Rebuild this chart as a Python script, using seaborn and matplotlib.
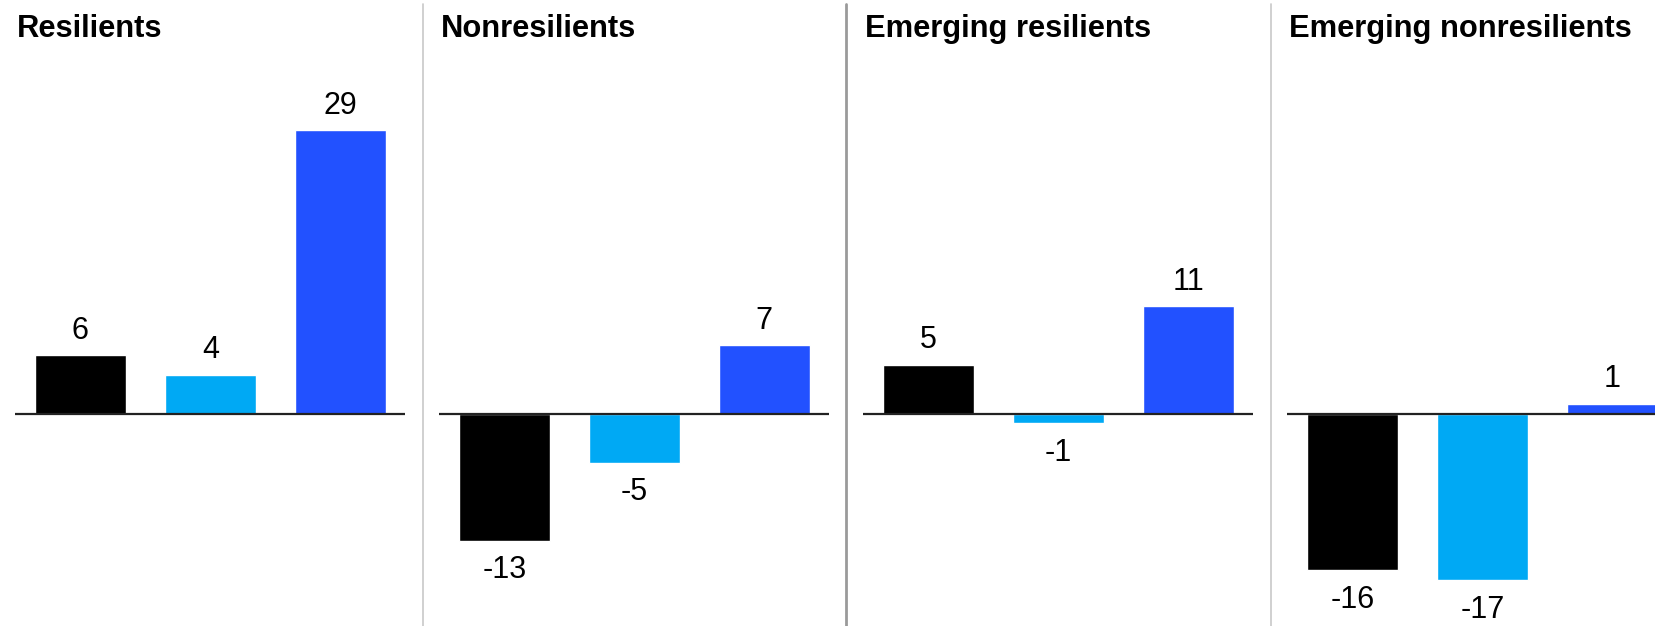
import matplotlib
matplotlib.use("Agg")
import matplotlib.pyplot as plt
from matplotlib.lines import Line2D
import seaborn as sns
import pandas as pd

sns.set_style("white")
plt.rcParams["font.family"] = ["Liberation Sans", "DejaVu Sans"]
plt.rcParams["text.color"] = "black"

# Data
groups = ["Resilients", "Nonresilients", "Emerging resilients", "Emerging nonresilients"]
measures = ["Measure 1", "Measure 2", "Measure 3"]
resilients = [6, 4, 29]
nonresilients = [-13, -5, 7]
emerging_resilients = [5, -1, 11]
emerging_nonresilients = [-16, -17, 1]
bar_colors = ["#000000", "#00A9F4", "#2251FF"]

values = [resilients, nonresilients, emerging_resilients, emerging_nonresilients]

W, H = 1655, 626
fig = plt.figure(figsize=(W / 100, H / 100), dpi=100)

# panel geometry in pixels
panel_left = 15.3
panel_step = 424
panel_w = 390
ax_top_px = 60
zero_px = 413.7
px_per_unit = 9.78
y_top = (zero_px - ax_top_px) / px_per_unit
y_bot = -(H - zero_px) / px_per_unit

palette = dict(zip(measures, bar_colors))

for i, (group, vals) in enumerate(zip(groups, values)):
    left = panel_left + i * panel_step
    ax = fig.add_axes([left / W, 0, panel_w / W, 1 - ax_top_px / H])
    df = pd.DataFrame({"measure": measures, "value": vals})
    sns.barplot(data=df, x="measure", y="value", hue="measure", palette=palette,
                width=0.7, ax=ax, legend=False, saturation=1)
    ax.set_xlim(-0.5, 2.5)
    ax.set_ylim(y_bot, y_top)
    ax.axhline(0, color="#222222", lw=1.6)
    for c in ax.containers:
        neg = c.datavalues[0] < 0
        ax.bar_label(c, fmt="{:.0f}", padding=10.5 if neg else 6.8,
                     fontsize=22, color="black")
    ax.set_xticks([])
    ax.set_yticks([])
    ax.set_xlabel("")
    ax.set_ylabel("")
    for s in ax.spines.values():
        s.set_visible(False)
    ax.patch.set_alpha(0)
    fig.text((left + 1.5) / W, 1 - 37 / H, group, fontsize=22.2, fontweight="bold",
             ha="left", va="baseline", color="black")

# vertical dividers between panels
dividers = [(422.7, "#c8c8c8", 1.2), (846.3, "#9a9a9a", 2.0), (1270.7, "#c8c8c8", 1.2)]
for x, col, lw in dividers:
    fig.add_artist(Line2D([x / W, x / W], [0, 1 - 4 / H], transform=fig.transFigure,
                          color=col, lw=lw))

fig.savefig("out.png", dpi=100, facecolor="white")
